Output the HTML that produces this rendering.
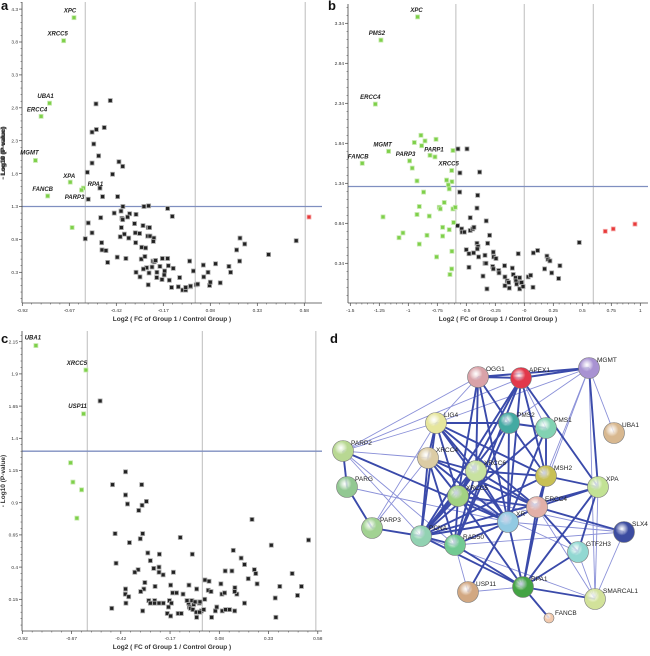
<!DOCTYPE html>
<html><head><meta charset="utf-8"><style>
body{margin:0;background:#fff;width:650px;height:656px;overflow:hidden}
svg{position:absolute;left:0;top:0}
text{font-family:"Liberation Sans",sans-serif}
</style></head><body>
<svg id="fig" width="650" height="656"></svg>
<script>
// ---------- Panel a data ----------
const aGreenX=[-0.645,-0.70,-0.775,-0.82,-0.85,-0.665,-0.595,-0.605,-0.785,-0.655];
const aGreenY=[4.17,3.82,2.87,2.67,2.0,1.67,1.58,1.55,1.46,0.98];
const aGreenNames=["XPC","XRCC5","UBA1","ERCC4","MGMT","XPA","RPA1","PARP3","FANCB",""];
const aRedX=[0.605];const aRedY=[1.14];
const aBlackX=[-0.452,-0.528,-0.484,-0.526,-0.549,-0.54,-0.514,-0.549,-0.406,-0.386,-0.574,-0.44,-0.507,-0.493,-0.569,-0.413,-0.385,-0.273,-0.248,-0.147,-0.122,-0.431,-0.395,-0.349,-0.315,-0.503,-0.569,-0.39,-0.386,-0.36,-0.323,-0.278,-0.25,-0.243,-0.549,-0.585,-0.498,-0.496,-0.475,-0.466,-0.415,-0.369,-0.393,-0.377,-0.354,-0.399,-0.319,-0.296,-0.317,-0.285,-0.264,-0.253,-0.241,-0.22,-0.223,-0.287,-0.268,-0.225,-0.218,-0.211,-0.175,-0.147,-0.143,-0.188,-0.23,-0.259,-0.276,-0.315,-0.294,-0.246,-0.204,-0.163,-0.117,-0.25,-0.205,-0.177,-0.165,-0.138,-0.083,-0.126,-0.09,-0.067,-0.051,-0.051,-0.026,-0.025,-0.03,-0.01,0.005,0.013,0.043,0.045,0.068,0.076,0.08,0.108,0.133,0.179,0.188,0.22,0.236,0.238,0.263,0.39,0.537];
const aBlackY=[2.91,2.86,2.50,2.47,2.43,2.25,2.07,1.96,1.98,1.91,1.82,1.79,1.58,1.45,1.41,1.45,1.30,1.30,1.31,1.27,1.15,1.20,1.23,1.19,1.18,1.13,1.05,1.12,1.10,1.14,1.04,1.01,0.98,0.98,0.90,0.81,0.75,0.64,0.63,0.45,0.53,0.51,0.98,0.88,0.82,0.84,0.90,0.89,0.75,0.68,0.67,0.85,0.85,0.82,0.77,0.50,0.54,0.47,0.46,0.48,0.51,0.51,0.40,0.39,0.38,0.37,0.35,0.30,0.23,0.29,0.30,0.32,0.36,0.11,0.22,0.19,0.26,0.18,0.22,0.07,0.08,0.03,0.03,0.07,0.08,0.09,0.47,0.32,0.11,0.12,0.41,0.23,0.30,0.10,0.15,0.43,0.14,0.39,0.30,0.64,0.47,0.82,0.73,0.57,0.78];
const aXTicks=[-0.92,-0.67,-0.42,-0.17,0.08,0.33,0.58];
const aXTickLabels=["-0.92","-0.67","-0.42","-0.17","0.08","0.33","0.58"];
const aYTicks=[0.3,0.8,1.3,1.8,2.3,2.8,3.3,3.8,4.3];
const aYTickLabels=["0.3","0.8","1.3","1.8","2.3","2.8","3.3","3.8","4.3"];
const aLabelDx=[-4,-6,-4,-4,-6,-1,12,-7,-5,0];
const aLabelDy=[-5,-5,-5,-5,-6,-4,-2,9,-5,0];

// ---------- Panel b data ----------
const bGreenX=[-0.92,-1.236,-1.284,-1.17,-1.397,-0.989,-0.813,-0.626,-0.891,-0.948,-0.856,-0.761,-0.885,-0.77,-0.966,-0.615,-0.925,-0.67,-0.624,-0.655,-0.647,-0.868,-0.69,-0.905,-0.733,-0.724,-0.615,-0.595,-0.925,-0.819,-1.218,-0.609,-0.704,-0.647,-1.046,-1.08,-0.839,-0.704,-0.905,-0.624,-0.756,-0.626,-0.641];
const bGreenY=[3.42,3.13,2.33,1.74,1.59,1.62,1.69,1.50,1.94,1.85,1.87,1.89,1.81,1.67,1.53,1.75,1.37,1.38,1.36,1.32,1.27,1.23,1.10,1.05,1.04,1.02,1.02,1.04,0.95,0.93,0.92,0.85,0.79,0.76,0.72,0.66,0.69,0.68,0.58,0.49,0.42,0.27,0.20];
const bGreenNames=["XPC","PMS2","ERCC4","MGMT","FANCB","PARP3","PARP1","XRCC5"];
const bRedX=[0.698,0.767,0.954];const bRedY=[0.74,0.77,0.83];
const bBlackX=[-0.572,-0.494,-0.555,-0.385,-0.557,-0.402,-0.408,-0.466,-0.328,-0.575,-0.54,-0.537,-0.517,-0.466,-0.445,-0.434,-0.299,-0.408,-0.399,-0.405,-0.316,-0.5,-0.477,-0.437,-0.394,-0.339,-0.267,-0.264,-0.244,-0.339,-0.33,-0.477,-0.356,-0.273,-0.267,-0.221,-0.218,-0.17,-0.167,-0.147,-0.135,-0.167,-0.129,-0.322,-0.103,-0.095,-0.075,-0.072,-0.066,-0.04,-0.034,-0.04,-0.023,-0.011,-0.052,0.034,0.055,0.078,0.115,0.075,0.175,0.195,0.204,0.221,0.236,0.296,0.307,0.474];
const bBlackY=[1.77,1.77,1.47,1.48,1.23,1.19,1.03,0.91,0.87,0.81,0.77,0.73,0.73,0.75,0.77,0.79,0.69,0.59,0.55,0.52,0.59,0.51,0.46,0.47,0.42,0.44,0.48,0.42,0.40,0.34,0.34,0.29,0.18,0.30,0.27,0.25,0.22,0.31,0.17,0.12,0.10,0.06,0.03,0.02,0.28,0.20,0.16,0.12,0.08,0.16,0.10,0.02,0.10,0.05,0.46,0.17,0.19,0.47,0.50,0.04,0.27,0.43,0.39,0.37,0.22,0.15,0.31,0.60];
const bXTicks=[-1.5,-1.25,-1,-0.75,-0.5,-0.25,0,0.25,0.5,0.75,1];
const bXTickLabels=["-1.5","-1.25","-1","-0.75","-0.5","-0.25","-0","0.25","0.5","0.75","1"];
const bYTicks=[0.34,0.84,1.34,1.84,2.34,2.84,3.34];
const bYTickLabels=["0.34","0.84","1.34","1.84","2.34","2.84","3.34"];
const bLabelDx=[-1,-4,-5,-6,-4,-4,4,-3];
const bLabelDy=[-5,-5,-5,-5,-5,-5,-4,-5];

// ---------- Panel c data ----------
const cGreenX=[-0.851,-0.597,-0.609,-0.675,-0.663,-0.619,-0.643];
const cGreenY=[2.12,1.93,1.59,1.21,1.06,1.00,0.78];
const cGreenNames=["UBA1","XRCC5","USP11"];
const cBlackX=[-0.525,-0.396,-0.462,-0.314,-0.396,-0.386,-0.312,-0.29,-0.329,-0.449,-0.309,-0.321,-0.376,-0.118,0.246,-0.283,-0.224,-0.057,0.151,0.344,0.533,-0.444,-0.27,-0.226,-0.253,-0.226,-0.332,-0.349,-0.205,-0.153,0.191,0.208,0.144,0.11,0.258,0.265,0.227,0.272,0.45,0.387,0.497,-0.298,-0.246,-0.303,-0.319,-0.396,-0.397,-0.38,-0.394,-0.167,-0.157,-0.137,-0.104,-0.074,-0.035,0.007,0.028,0.024,0.038,0.088,0.093,0.107,0.159,0.169,0.158,0.208,0.364,0.367,0.477,-0.278,-0.248,-0.249,-0.226,-0.204,-0.173,-0.163,-0.178,-0.184,-0.167,-0.27,-0.309,-0.466,-0.129,-0.113,-0.076,-0.072,-0.066,-0.059,-0.05,-0.043,-0.054,-0.037,-0.035,-0.021,-0.011,0.001,0.006,-0.02,0.041,0.06,0.067,0.095,0.112,0.132,0.158,-0.018,-0.084];
const cBlackY=[1.69,1.14,1.04,1.04,0.96,0.89,0.88,0.91,0.84,0.66,0.66,0.62,0.59,0.63,0.77,0.51,0.50,0.50,0.53,0.57,0.61,0.43,0.45,0.40,0.39,0.36,0.38,0.36,0.34,0.36,0.47,0.42,0.37,0.37,0.38,0.35,0.31,0.27,0.35,0.25,0.25,0.28,0.25,0.23,0.21,0.23,0.19,0.17,0.12,0.26,0.20,0.20,0.19,0.26,0.23,0.30,0.29,0.22,0.21,0.27,0.19,0.20,0.24,0.19,0.21,0.12,0.16,0.01,0.18,0.14,0.14,0.12,0.12,0.12,0.14,0.12,0.09,0.04,0.02,0.12,0.06,0.08,0.04,0.04,0.12,0.09,0.08,0.14,0.11,0.13,0.07,0.05,0.01,0.12,0.06,0.07,0.15,0.05,0.01,0.06,0.09,0.06,0.07,0.07,0.06,0.13,0.14];
const cXTicks=[-0.92,-0.67,-0.42,-0.17,0.08,0.33,0.58];
const cXTickLabels=["-0.92","-0.67","-0.42","-0.17","0.08","0.33","0.58"];
const cYTicks=[0.15,0.4,0.65,0.9,1.15,1.4,1.65,1.9,2.15];
const cYTickLabels=["0.15","0.4","0.65","0.9","1.15","1.4","1.65","1.9","2.15"];
const cLabelDx=[-3,-9,-6];
const cLabelDy=[-6,-5,-6];

// ---------- Network ----------
const nodeNames=["OGG1","APEX1","MGMT","LIG4","PMS2","PMS1","UBA1","PARP2","XRCC4","XRCC6","MSH2","XPA","PARG","XRCC5","ERCC4","SLX4","PARP3","XRCC1","PCNA","RAD50","GTF2H3","USP11","RPA1","SMARCAL1","FANCB"];
const nodeLabels=["OGG1","APEX1","MGMT","LIG4","PMS2","PMS1","UBA1","PARP2","XRCC4","XRCC6","MSH2","XPA","PARG","XRCC5","ERCC4","SLX4","PARP3","XR","PCNA","RAD50","GTF2H3","USP11","RPA1","SMARCAL1","FANCB"];

const NS="http://www.w3.org/2000/svg";
const svg=document.getElementById('fig');
function mk(tag,attrs,parent){const e=document.createElementNS(NS,tag);for(const k in attrs)e.setAttribute(k,attrs[k]);(parent||svg).appendChild(e);return e;}

function panel(P){
  const g=mk('g',{});
  
  
  const sx=v=>P.x0+(v-P.xmin)*P.kx, sy=v=>P.y0-(v-P.ymin)*P.ky;
  // grid lines
  P.vlines.forEach(v=>{const l=mk('line',{x1:sx(v),x2:sx(v),y1:P.top,y2:P.bottom,stroke:'#c8c8c8','stroke-width':1.2},g);
    });
  const hl=mk('line',{x1:P.left,x2:P.right,y1:sy(1.3),y2:sy(1.3),stroke:'#7f8fc0','stroke-width':1.3},g);
  
  // axes
  const ax=mk('line',{x1:P.left,x2:P.right,y1:P.bottom,y2:P.bottom,stroke:'#444','stroke-width':0.8},g);
  
  const ay=mk('line',{x1:P.left,x2:P.left,y1:P.top,y2:P.bottom,stroke:'#444','stroke-width':0.8},g);
  
  P.xt.forEach((v,i)=>{const x=sx(v);
    mk('line',{x1:x,x2:x,y1:P.bottom,y2:P.bottom+3,stroke:'#444','stroke-width':0.7},g);
    const t=mk('text',{x:x,y:P.bottom+9,'font-size':4.8,'text-anchor':'middle',fill:'#333'},g);t.textContent=P.xtl[i];
    
    if(i<P.xt.length-1){for(let k=1;k<5;k++){const xx=x+(sx(P.xt[i+1])-x)*k/5;mk('line',{x1:xx,x2:xx,y1:P.bottom,y2:P.bottom+1.5,stroke:'#444','stroke-width':0.5},g);}}
  });
  P.yt.forEach((v,i)=>{const y=sy(v);
    mk('line',{x1:P.left-3,x2:P.left,y1:y,y2:y,stroke:'#444','stroke-width':0.7},g);
    const t=mk('text',{x:P.left-4,y:y+1.7,'font-size':4.8,'text-anchor':'end',fill:'#333'},g);t.textContent=P.ytl[i];
    
    for(let k=1;k<5;k++){const yy=y-(sy(P.yt[0])-sy(P.yt[1]))*k/5;if(yy>P.top&&yy<P.bottom)mk('line',{x1:P.left-1.5,x2:P.left,y1:yy,y2:yy,stroke:'#444','stroke-width':0.5},g);}
    for(let k=1;k<5;k++){const yy=y+(sy(P.yt[0])-sy(P.yt[1]))*k/5;if(i==0&&yy<P.bottom)mk('line',{x1:P.left-1.5,x2:P.left,y1:yy,y2:yy,stroke:'#444','stroke-width':0.5},g);}
  });
  const xt=mk('text',{x:(P.left+P.right)/2,y:P.xtitleY,'font-size':6.5,'font-weight':'bold','text-anchor':'middle',fill:'#333'},g);
  xt.textContent='Log2 ( FC of Group 1 / Control Group )';
  
  const cy=(P.top+P.bottom)/2;
  const yt=mk('text',{x:5,y:cy,'font-size':6.5,'font-weight':'bold','text-anchor':'middle',fill:'#333',transform:`rotate(-90 5 ${cy})`},g);
  yt.textContent='- Log10 (P-value)';
  
  const pl=mk('text',{x:P.lx,y:P.ly,'font-size':13,'font-weight':'bold','font-family':'Liberation Serif, serif',fill:'#111'},g);
  pl.textContent=P.letter;
  function pts(X,Y,fill,stroke,nm){X.forEach((v,i)=>{const r=mk('rect',{x:sx(v)-2,y:sy(Y[i])-2,width:4,height:4,fill:fill,stroke:stroke,'stroke-width':0.8},g);
    });}
  pts(P.bx,P.by,'#222','#aaa','protein-point');
  pts(P.gx,P.gy,'#7ed04a','#c8eab0','significant-down-point');
  pts(P.rx,P.ry,'#e83a3a','#f5b0b0','significant-up-point');
  P.names.forEach((n,i)=>{if(!n)return;const t=mk('text',{x:sx(P.gx[i])+P.ldx[i],y:sy(P.gy[i])+P.ldy[i],'font-size':6,'font-weight':'bold','font-style':'italic','text-anchor':'middle',fill:'#222'},g);
    t.textContent=n;});
}

panel({name:'volcano-plot-a',letter:'a',lx:1,ly:10,left:22,right:322,top:2,bottom:303,x0:22.3,xmin:-0.92,kx:188,y0:206.5,ymin:1.3,ky:65.8,
  vlines:[-0.585,0,0.585],xt:aXTicks,xtl:aXTickLabels,yt:aYTicks,ytl:aYTickLabels,xtitleY:321,
  gx:aGreenX,gy:aGreenY,names:aGreenNames,ldx:aLabelDx,ldy:aLabelDy,rx:aRedX,ry:aRedY,bx:aBlackX,by:aBlackY});
panel({name:'volcano-plot-b',letter:'b',lx:328,ly:10,left:348,right:648,top:4,bottom:303,x0:524.3,xmin:0,kx:116,y0:183.3,ymin:1.34,ky:80,
  vlines:[-0.59,0,0.595],xt:bXTicks,xtl:bXTickLabels,yt:bYTicks,ytl:bYTickLabels,xtitleY:321,
  gx:bGreenX,gy:bGreenY,names:bGreenNames,ldx:bLabelDx,ldy:bLabelDy,rx:bRedX,ry:bRedY,bx:bBlackX,by:bBlackY});
panel({name:'volcano-plot-c',letter:'c',lx:1,ly:343,left:22,right:322,top:331,bottom:631,x0:22.3,xmin:-0.92,kx:197,y0:599.3,ymin:0.15,ky:128.8,
  vlines:[-0.59,-0.006,0.57],xt:cXTicks,xtl:cXTickLabels,yt:cYTicks,ytl:cYTickLabels,xtitleY:649,
  gx:cGreenX,gy:cGreenY,names:cGreenNames,ldx:cLabelDx,ldy:cLabelDy,rx:[],ry:[],bx:cBlackX,by:cBlackY});

// ---- network panel d ----
const nodePos={OGG1:[478,377],APEX1:[521,378],MGMT:[589,368],LIG4:[436,423],PMS2:[509,423],PMS1:[546,428],UBA1:[614,433],PARP2:[343,451],XRCC4:[428,458],XRCC6:[476,471],MSH2:[546,476],XPA:[598,487],PARG:[347,487],XRCC5:[458,496],ERCC4:[537,507],SLX4:[624,532],PARP3:[372,528],XRCC1:[508,522],PCNA:[421,536],RAD50:[455,545],GTF2H3:[578,552],USP11:[468,592],RPA1:[523,587],SMARCAL1:[595,599],FANCB:[549,618]};
const nodeColors={OGG1:'#d9a2a8',APEX1:'#e2384a',MGMT:'#a892d2',LIG4:'#e6e69c',PMS2:'#44aaa2',PMS1:'#82d2b2',UBA1:'#d8b890',PARP2:'#b8d892',XRCC4:'#dccca4',XRCC6:'#c8e2a0',MSH2:'#c8c054',XPA:'#c2e294',PARG:'#92c892',XRCC5:'#a2d282',ERCC4:'#e2b0a8',SLX4:'#3c4ca0',PARP3:'#a2d292',XRCC1:'#92cae2',PCNA:'#92d2b2',RAD50:'#72ca92',GTF2H3:'#92d8d2',USP11:'#d2a882',RPA1:'#44a444',SMARCAL1:'#d2e29a',FANCB:'#f2caae'};
const thick=[["OGG1","APEX1"],["OGG1","XRCC6"],["OGG1","XRCC5"],["OGG1","XRCC1"],["OGG1","PMS2"],["APEX1","XRCC1"],["APEX1","PCNA"],["APEX1","XRCC5"],["APEX1","MSH2"],["APEX1","RAD50"],["APEX1","XPA"],["LIG4","XRCC4"],["LIG4","XRCC6"],["LIG4","XRCC5"],["LIG4","PMS2"],["LIG4","XRCC1"],["LIG4","PCNA"],["LIG4","ERCC4"],["LIG4","MSH2"],["PMS2","PMS1"],["PMS2","MSH2"],["PMS2","PCNA"],["PMS2","RAD50"],["PMS2","XRCC1"],["PMS1","MSH2"],["PMS1","PCNA"],["PMS1","XRCC1"],["XRCC4","XRCC6"],["XRCC4","XRCC5"],["XRCC4","RAD50"],["XRCC4","PCNA"],["XRCC4","XRCC1"],["XRCC4","ERCC4"],["XRCC6","XRCC5"],["XRCC6","XRCC1"],["XRCC6","RAD50"],["XRCC6","MSH2"],["XRCC6","PCNA"],["XRCC6","ERCC4"],["XRCC5","RAD50"],["XRCC5","PCNA"],["XRCC5","XRCC1"],["XRCC5","ERCC4"],["XRCC5","RPA1"],["MSH2","ERCC4"],["MSH2","PCNA"],["MSH2","XPA"],["MSH2","RPA1"],["ERCC4","XPA"],["ERCC4","XRCC1"],["ERCC4","SLX4"],["ERCC4","RPA1"],["ERCC4","GTF2H3"],["XPA","RPA1"],["XPA","PCNA"],["XPA","GTF2H3"],["XRCC1","PCNA"],["XRCC1","RAD50"],["XRCC1","RPA1"],["PCNA","RAD50"],["PCNA","RPA1"],["RAD50","RPA1"],["RPA1","SMARCAL1"],["RPA1","FANCB"],["RPA1","GTF2H3"],["PARP2","PARG"],["PARG","PARP3"],["PARP2","XRCC1"],["PCNA","PARP3"],["USP11","XRCC1"],["MGMT","XPA"],["MGMT","OGG1"],["APEX1","MGMT"]];
const thin=[["OGG1","PARP2"],["APEX1","PARP2"],["OGG1","LIG4"],["MGMT","PMS2"],["MGMT","MSH2"],["MGMT","UBA1"],["MGMT","ERCC4"],["MGMT","SMARCAL1"],["MGMT","LIG4"],["PARP2","XRCC4"],["PARP2","PCNA"],["PARP2","LIG4"],["PARG","XRCC1"],["PARP3","XRCC4"],["PARP3","LIG4"],["PARP2","RAD50"],["USP11","RAD50"],["USP11","RPA1"],["SLX4","SMARCAL1"],["XPA","SMARCAL1"],["ERCC4","SMARCAL1"],["SLX4","XRCC1"],["XRCC5","SLX4"],["GTF2H3","SMARCAL1"],["PCNA","SMARCAL1"],["OGG1","MSH2"],["APEX1","PMS1"],["XRCC5","GTF2H3"],["RAD50","SLX4"]];
const gd=mk('g',{});
thin.forEach(e=>{const a=nodePos[e[0]],b=nodePos[e[1]];const l=mk('line',{x1:a[0],y1:a[1],x2:b[0],y2:b[1],stroke:'#8a90d8','stroke-width':0.9},gd);
  });
thick.forEach(e=>{const a=nodePos[e[0]],b=nodePos[e[1]];const l=mk('line',{x1:a[0],y1:a[1],x2:b[0],y2:b[1],stroke:'#3a4aaa','stroke-width':1.9},gd);
  });
const defs=mk('defs',{});
nodeNames.forEach((n,i)=>{
  const gr=mk('radialGradient',{id:'g'+i,cx:'0.4',cy:'0.35',r:'0.7'},defs);
  mk('stop',{offset:'0','stop-color':'#fff','stop-opacity':'0.75'},gr);
  mk('stop',{offset:'0.45','stop-color':nodeColors[n]},gr);
  mk('stop',{offset:'1','stop-color':nodeColors[n],'stop-opacity':'1'},gr);
  const p=nodePos[n];const r=n==='FANCB'?5:10.5;
  const c=mk('circle',{cx:p[0],cy:p[1],r:r,fill:'url(#g'+i+')',stroke:'#777','stroke-width':0.6},gd);
  
  const t=mk('text',{x:p[0]+(n==='FANCB'?6:8),y:p[1]-(n==='FANCB'?3:6),'font-size':6.5,fill:'#222'},gd);
  t.textContent=nodeLabels[i];
});
const dl=mk('text',{x:330,y:343,'font-size':13,'font-weight':'bold','font-family':'Liberation Serif, serif',fill:'#111'});
dl.textContent='d';
</script>
</body></html>
